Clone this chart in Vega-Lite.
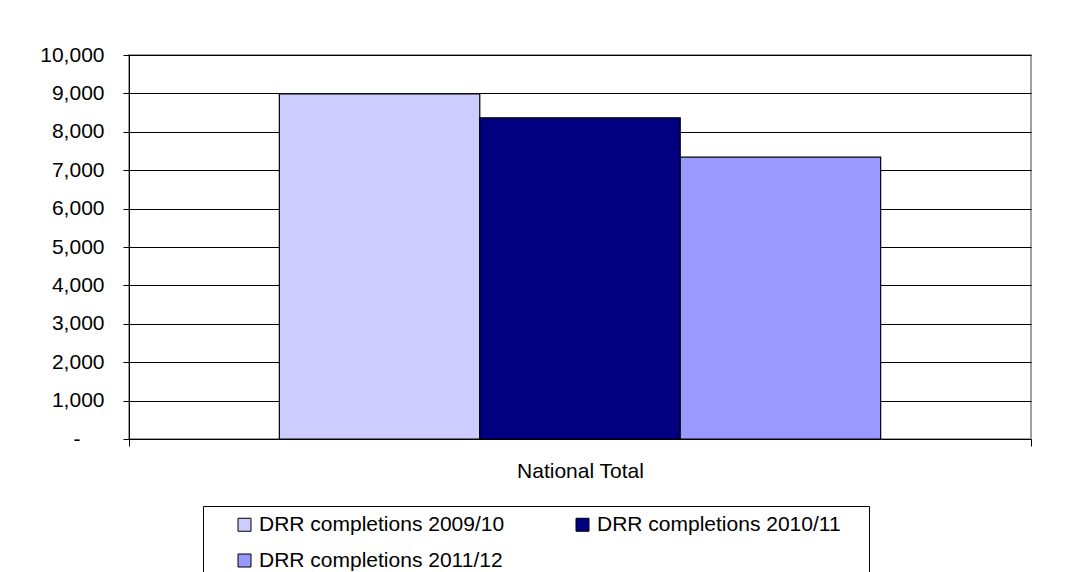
{
  "$schema": "https://vega.github.io/schema/vega-lite/v6.json",
  "width": 902,
  "height": 384,
  "autosize": {"type": "none"},
  "padding": {"left": 129, "top": 55, "right": 52, "bottom": 133},
  "background": "white",
  "data": {
    "values": [
      {"category": "National Total", "series": "DRR completions 2009/10", "value": 8990},
      {"category": "National Total", "series": "DRR completions 2010/11", "value": 8365},
      {"category": "National Total", "series": "DRR completions 2011/12", "value": 7340}
    ]
  },
  "mark": {"type": "bar", "stroke": "#000", "strokeWidth": 1.2},
  "encoding": {
    "x": {
      "field": "category",
      "type": "nominal",
      "scale": {"paddingInner": 0, "paddingOuter": 0},
      "axis": {
        "title": null,
        "labelAngle": 0,
        "tickBand": "extent",
        "tickSize": 7,
        "tickColor": "#000",
        "domainColor": "#000",
        "labelFont": "Liberation Sans",
        "labelFontSize": 21,
        "labelColor": "#000",
        "labelPadding": 14,
        "grid": false
      }
    },
    "xOffset": {
      "field": "series",
      "type": "nominal",
      "scale": {"paddingInner": 0, "paddingOuter": 0.75}
    },
    "y": {
      "field": "value",
      "type": "quantitative",
      "scale": {"domain": [0, 10000], "nice": false},
      "axis": {
        "title": null,
        "values": [0, 1000, 2000, 3000, 4000, 5000, 6000, 7000, 8000, 9000, 10000],
        "format": ",.0f",
        "labelExpr": "datum.value === 0 ? '-' : datum.label",
        "tickSize": 6,
        "labelPadding": {"condition": {"test": "datum.value === 0", "value": 43}, "value": 19},
        "grid": true,
        "gridColor": "#000",
        "gridOpacity": 1,
        "domainColor": "#000",
        "tickColor": "#000",
        "labelFont": "Liberation Sans",
        "labelFontSize": 21,
        "labelColor": "#000"
      }
    },
    "color": {
      "field": "series",
      "type": "nominal",
      "scale": {"range": ["#CCCCFF", "#000080", "#9999FF"]},
      "legend": {
        "title": "\u00a0",
        "titleOrient": "right",
        "titleFontSize": 10,
        "titlePadding": 20,
        "orient": "none",
        "legendX": 74,
        "legendY": 451,
        "direction": "horizontal",
        "columns": 2,
        "columnPadding": 44,
        "rowPadding": 14,
        "padding": 8,
        "strokeColor": "#000",
        "fillColor": "white",
        "symbolType": "square",
        "symbolSize": 169,
        "symbolOffset": 23,
        "symbolStrokeColor": "#000",
        "symbolStrokeWidth": 1,
        "symbolOpacity": 1,
        "labelFont": "Liberation Sans",
        "labelFontSize": 21,
        "labelColor": "#000",
        "labelOffset": 4,
        "labelLimit": 0
      }
    }
  },
  "config": {
    "view": {"stroke": "#a0a0a0", "strokeWidth": 2}
  }
}
